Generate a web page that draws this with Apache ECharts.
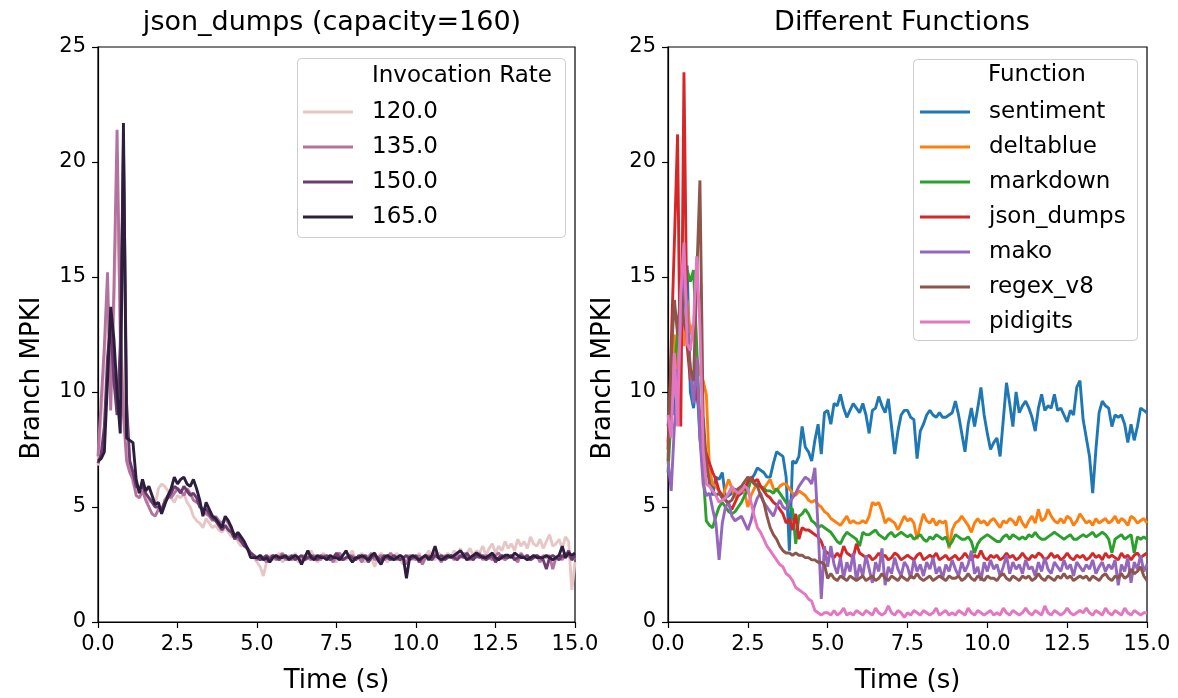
<!DOCTYPE html>
<html>
<head>
<meta charset="utf-8">
<script src="https://cdn.jsdelivr.net/npm/echarts@6/dist/echarts.min.js"></script>
<style>
html,body{margin:0;padding:0;background:#fff;}
#chart{width:1178px;height:698px;}
</style>
</head>
<body>
<div id="chart"></div>
<script>
// ---- Data (sampled every 0.1 s from 0.0 to 15.0 s) ----
const STEP = 0.1;
const leftTitle = 'json_dumps (capacity=160)';
const rightTitle = 'Different Functions';
const xLabel = 'Time (s)';
const yLabel = 'Branch MPKI';

const rateNames = ['120.0', '135.0', '150.0', '165.0'];
const rate120 = [
 6.8, 9.0, 11.5, 14.0, 10.0, 13.5, 19.5, 13.0, 10.0, 7.5,
 6.8, 6.0, 5.8, 5.6, 5.9, 5.5, 5.2, 5.4, 5.1, 5.8,
 6.0, 5.9, 5.7, 5.4, 5.2, 5.5, 5.4, 5.6, 5.2, 5.0,
 4.6, 4.4, 4.3, 4.1, 4.5, 4.3, 4.1, 4.2, 4.0, 3.9,
 4.1, 3.9, 3.7, 3.8, 3.5, 3.3, 3.4, 3.1, 3.0, 2.8,
 2.6, 2.4, 2.0, 2.6, 2.9, 2.7, 2.8, 3.0, 2.6, 2.8,
 2.9, 2.7, 3.0, 2.6, 2.8, 2.9, 2.7, 3.1, 2.8, 2.6,
 2.8, 3.0, 2.7, 2.9, 2.8, 2.6, 3.0, 2.8, 2.7, 2.9,
 3.1, 2.7, 2.8, 3.0, 2.6, 2.9, 2.8, 2.4, 2.8, 3.0,
 2.8, 2.6, 2.9, 2.8, 3.0, 2.7, 2.5, 2.8, 2.9, 2.7,
 2.8, 3.0, 2.6, 2.9, 3.1, 2.8, 2.7, 3.0, 2.9, 2.8,
 3.0, 2.8, 3.1, 2.9, 3.2, 2.8, 3.0, 3.2, 2.9, 3.1,
 3.0, 3.3, 2.9, 3.2, 3.4, 3.0, 3.3, 3.1, 3.5, 3.2,
 3.4, 3.1, 3.6, 3.3, 3.5, 3.2, 3.7, 3.4, 3.3, 3.6,
 3.2, 3.5, 3.8, 3.3, 3.4, 3.6, 3.2, 3.7, 3.5, 1.4,
 2.6];
const rate135 = [
 7.2, 9.6, 12.0, 15.2, 9.2, 14.5, 21.4, 12.5, 9.0, 7.0,
 6.5, 6.2, 5.5, 5.4, 5.7, 5.3, 5.0, 4.7, 4.6, 4.9,
 4.8, 5.3, 5.5, 5.4, 5.6, 5.8, 5.7, 5.5, 5.8, 5.6,
 5.3, 5.2, 5.1, 4.8, 4.7, 4.6, 4.4, 4.6, 4.4, 4.3,
 4.5, 4.3, 4.0, 3.8, 3.6, 3.5, 3.4, 3.2, 3.0, 2.9,
 2.7, 2.9, 2.8, 2.6, 2.8, 2.9, 2.7, 2.8, 3.0, 2.7,
 2.8, 2.7, 2.9, 2.8, 2.6, 2.9, 2.8, 2.7, 2.9, 2.8,
 2.7, 2.9, 2.8, 2.8, 2.6, 2.9, 3.0, 2.7, 2.8, 2.8,
 2.9, 2.7, 2.8, 2.6, 2.9, 2.8, 3.0, 2.7, 2.8, 2.9,
 2.7, 2.8, 3.0, 2.8, 2.7, 2.9, 2.8, 2.5, 2.9, 2.8,
 2.7, 2.9, 2.5, 2.8, 2.9, 2.8, 3.0, 2.8, 2.6, 2.9,
 2.8, 2.9, 2.7, 2.9, 2.8, 3.0, 2.8, 2.7, 2.9, 2.8,
 3.0, 2.7, 2.9, 2.8, 2.7, 2.9, 3.0, 2.8, 2.7, 2.8,
 2.9, 2.8, 2.6, 3.0, 2.8, 2.9, 2.7, 2.8, 2.9, 2.6,
 2.9, 2.8, 2.9, 2.3, 2.8, 2.9, 2.7, 3.0, 2.9, 2.7,
 2.8];
const rate150 = [
 6.9, 7.3, 8.5, 11.5, 13.0, 10.5, 9.0, 12.0, 20.8, 9.5,
 7.0, 6.5, 5.9, 5.8, 5.9, 5.6, 5.4, 5.2, 5.0, 5.0,
 4.9, 5.2, 5.4, 5.6, 5.9, 5.8, 5.6, 5.9, 5.7, 5.5,
 5.6, 5.4, 5.0, 4.9, 4.9, 4.7, 4.5, 4.4, 4.2, 4.0,
 4.2, 4.0, 3.9, 3.6, 3.8, 3.5, 3.3, 3.2, 3.0, 2.9,
 2.8, 2.7, 2.8, 2.9, 2.7, 2.9, 2.8, 2.7, 2.9, 2.8,
 2.8, 2.9, 2.7, 2.8, 2.9, 2.7, 2.8, 2.9, 2.8, 2.7,
 2.9, 2.8, 2.9, 2.7, 2.8, 3.0, 2.8, 2.7, 2.8, 2.9,
 2.8, 2.7, 2.9, 2.8, 2.9, 2.6, 2.8, 2.9, 2.8, 2.7,
 2.9, 2.8, 2.7, 2.9, 2.8, 2.7, 2.8, 2.9, 2.7, 2.8,
 2.9, 2.6, 2.8, 2.9, 2.8, 2.7, 2.9, 2.8, 2.9, 2.7,
 2.8, 2.9, 2.8, 2.7, 2.9, 2.8, 3.0, 2.8, 2.7, 2.9,
 2.8, 2.9, 2.7, 2.8, 2.9, 2.6, 2.8, 2.9, 2.8, 2.8,
 2.9, 2.7, 2.8, 2.9, 2.8, 2.9, 2.7, 2.8, 2.9, 2.8,
 2.7, 2.3, 2.8, 2.9, 2.8, 2.7, 2.9, 2.8, 3.1, 2.7,
 2.9];
const rate165 = [
 7.0, 7.1, 7.4, 10.5, 13.7, 12.3, 10.0, 8.2, 21.7, 8.0,
 7.9, 7.8, 6.2, 5.6, 6.2, 5.7, 5.9, 5.5, 5.1, 5.2,
 4.7, 5.1, 5.5, 5.8, 6.3, 6.0, 6.2, 6.3, 6.0, 5.9,
 6.2, 5.8, 5.3, 4.6, 5.2, 4.9, 4.6, 4.5, 4.3, 4.1,
 4.6, 4.4, 4.1, 3.7, 3.9, 3.7, 3.5, 3.2, 2.8, 2.8,
 2.8, 2.9, 2.7, 2.8, 2.6, 2.8, 2.9, 2.8, 2.8, 2.9,
 2.7, 2.8, 2.9, 2.8, 2.5, 2.8, 3.1, 2.8, 2.7, 2.9,
 2.8, 2.8, 2.7, 2.9, 2.8, 2.8, 2.7, 2.9, 3.1, 2.8,
 2.6, 2.8, 2.8, 2.9, 2.8, 2.7, 2.9, 3.0, 2.7, 2.5,
 2.8, 2.9, 2.8, 2.7, 2.8, 2.9, 2.8, 1.9, 2.8, 2.9,
 2.8, 2.7, 2.8, 2.9, 2.7, 2.9, 3.3, 2.8, 2.7, 2.8,
 2.9, 2.8, 2.9, 3.0, 3.1, 2.9, 2.7, 2.8, 2.9, 3.0,
 2.9, 2.8, 2.8, 2.9, 3.0, 2.8, 2.7, 2.8, 2.9, 2.9,
 2.8, 3.0, 2.9, 2.8, 2.8, 2.7, 2.8, 2.9, 2.8, 2.8,
 2.8, 2.9, 2.8, 2.7, 2.8, 2.9, 3.3, 2.8, 3.0, 2.9,
 3.0];

const funcNames = ['sentiment', 'deltablue', 'markdown', 'json_dumps', 'mako', 'regex_v8', 'pidigits'];
const sentiment = [
 8.5, 10.0, 9.0, 11.0, 12.0, 14.0, 15.5, 10.0, 9.3, 10.5,
 8.0, 6.8, 6.5, 6.7, 5.5, 6.3, 6.2, 6.5, 5.4, 5.5,
 5.6, 5.8, 5.5, 5.6, 5.7, 6.0, 6.2, 6.4, 6.7, 6.6,
 6.5, 6.3, 6.3, 6.9, 7.4, 7.3, 7.2, 6.3, 3.1, 7.0,
 6.9, 7.2, 8.5, 7.6, 7.4, 7.0, 7.9, 8.6, 7.3, 9.1,
 9.2, 8.6, 9.5, 9.4, 9.9, 9.3, 8.9, 9.2, 9.5, 9.3,
 9.1, 9.5, 9.0, 8.2, 9.2, 9.3, 9.8, 9.4, 9.1, 9.7,
 8.5, 7.3, 8.3, 9.0, 9.2, 9.2, 8.9, 8.8, 7.1, 8.3,
 8.6, 9.0, 9.2, 9.0, 8.9, 9.1, 8.9, 8.9, 9.0, 9.1,
 9.6, 9.0, 8.2, 7.4, 8.6, 9.3, 8.5, 9.3, 10.2, 9.0,
 8.2, 7.5, 7.8, 8.0, 7.2, 8.8, 10.4, 9.5, 8.5, 10.0,
 9.1, 9.4, 9.6, 9.3, 8.9, 8.3, 9.3, 9.9, 9.2, 9.4,
 9.3, 9.9, 9.2, 9.3, 9.0, 8.7, 9.2, 9.0, 10.2, 10.5,
 8.8, 8.0, 7.2, 5.6, 7.5, 9.1, 9.6, 9.4, 9.3, 8.5,
 9.0, 8.9, 9.0, 8.6, 7.8, 8.6, 7.9, 8.5, 9.3, 9.2,
 9.1];
const deltablue = [
 7.8, 10.5, 12.5, 11.0, 13.5, 12.0, 14.0, 12.5, 13.0, 11.5,
 10.8, 10.5, 9.9, 6.6, 6.0, 5.9, 5.7, 5.4, 5.8, 6.2,
 5.8, 5.4, 5.6, 5.9, 5.6, 5.0, 5.5, 5.8, 6.0, 5.9,
 5.8, 6.0, 6.2, 5.8, 5.7, 5.9, 6.0, 6.0, 5.8, 5.6,
 5.5, 5.7, 5.6, 5.5, 5.3, 5.2, 5.3, 5.1, 5.0, 4.8,
 4.7, 4.5, 4.4, 4.3, 4.2, 4.4, 4.6, 4.3, 4.4, 4.3,
 4.3, 4.4, 4.3, 4.6, 5.2, 5.1, 5.2, 4.8, 4.3, 4.5,
 4.4, 4.3, 4.0, 4.3, 4.6, 4.4, 4.5, 4.3, 3.6, 4.2,
 4.7, 4.4, 4.3, 4.5, 4.2, 4.4, 4.3, 4.4, 3.2, 4.0,
 4.3, 4.4, 4.6, 4.4, 4.2, 3.9, 4.3, 4.5, 4.3, 4.4,
 4.2, 4.4, 4.5, 4.3, 4.1, 4.4, 4.3, 4.5, 4.4, 4.2,
 4.6, 4.3, 4.1, 4.4, 4.6, 4.3, 4.9, 4.4, 4.5, 4.9,
 4.6, 4.4, 4.3, 4.5, 4.3, 4.6, 4.5, 4.2, 4.4, 4.7,
 4.5, 4.3, 4.4, 4.2, 4.5, 4.3, 4.4, 4.5, 4.3, 4.4,
 4.6, 4.3, 4.5, 4.4, 4.2, 4.6, 4.5, 4.3, 4.4, 4.5,
 4.3];
const markdown = [
 6.5, 9.0, 11.0, 12.5, 13.5, 14.5, 15.3, 14.8, 15.3, 12.0,
 8.5, 6.5, 4.4, 4.2, 4.1, 4.6, 5.0, 5.2, 5.0, 4.8,
 4.7, 4.8, 5.0, 5.2, 5.5, 5.7, 6.2, 6.0, 6.0, 5.9,
 5.8, 5.7, 5.7, 5.6, 5.8, 5.6, 5.4, 5.2, 5.0, 4.9,
 3.4, 4.6, 4.7, 4.9, 4.7, 4.4, 4.3, 4.1, 4.2, 4.1,
 4.0, 3.9, 3.7, 3.5, 3.4, 3.7, 3.9, 3.8, 3.7, 3.6,
 3.3, 3.9, 3.8, 3.8, 3.9, 4.0, 3.8, 3.7, 3.6, 3.8,
 3.9, 3.7, 3.8, 3.9, 3.8, 3.7, 3.8, 3.6, 3.7, 3.8,
 3.6, 3.5, 3.7, 3.6, 3.8, 3.7, 3.6, 3.7, 3.3, 3.5,
 3.8, 3.7, 3.6, 3.6, 3.7, 3.5, 3.0, 3.4, 3.6, 3.7,
 3.8, 3.7, 3.6, 3.5, 3.5, 3.7, 3.8, 3.6, 3.8, 3.7,
 3.6, 3.7, 3.6, 3.8, 3.7, 3.9, 3.7, 3.6, 3.6, 3.7,
 3.8, 3.9, 3.8, 3.7, 3.6, 3.7, 3.8, 3.6, 3.6, 3.7,
 3.8, 3.7, 3.8, 3.9, 3.7, 3.8, 3.9, 3.8, 3.6, 3.0,
 3.6, 3.7, 3.8, 3.6, 3.7, 3.8, 3.0, 3.7, 3.6, 3.7,
 3.6];
const jsonDumps = [
 7.5, 12.0, 16.5, 21.2, 8.5, 23.9, 12.0, 10.5, 10.8, 9.9,
 9.0, 7.9, 7.3, 6.9, 6.5, 6.2, 5.7, 5.5, 5.3, 5.1,
 4.9, 5.2, 5.5, 5.7, 5.8, 6.1, 6.3, 6.1, 6.2, 5.9,
 5.7, 5.5, 5.4, 5.2, 5.1, 4.9, 4.7, 4.3, 4.5, 4.0,
 4.7, 3.6, 4.1, 4.0, 4.0, 3.9, 3.8, 3.7, 3.5, 3.1,
 3.0, 2.9, 2.8, 3.0, 2.8, 3.3, 3.0, 2.9, 2.8, 3.4,
 3.0, 2.9, 2.8, 2.9, 2.7, 2.8, 3.0, 2.8, 2.9, 2.7,
 2.8, 3.0, 2.9, 2.7, 2.8, 2.9, 2.8, 2.7, 2.9, 3.0,
 2.7, 2.8, 2.9, 2.8, 3.0, 2.7, 2.8, 2.9, 2.7, 2.8,
 2.9, 2.7, 2.8, 3.0, 2.8, 2.7, 2.9, 2.8, 3.1, 2.8,
 2.7, 2.9, 2.8, 2.9, 2.7, 2.8, 3.0, 2.8, 2.9, 2.7,
 2.8, 3.0, 2.8, 2.7, 2.9, 2.8, 3.0, 2.9, 2.7, 2.8,
 3.0, 2.8, 2.9, 2.7, 2.8, 3.0, 2.8, 2.7, 2.9, 2.8,
 2.9, 2.7, 2.8, 3.0, 2.8, 2.9, 2.7, 3.0, 2.8, 2.9,
 2.8, 2.7, 3.0, 2.8, 2.9, 2.7, 2.9, 3.0, 2.8, 2.9,
 3.0];
const mako = [
 7.0, 5.7, 8.5, 10.0, 13.0, 15.8, 13.5, 11.0, 9.5, 11.5,
 8.0, 6.0, 5.5, 5.6, 4.9, 4.3, 2.7, 4.3, 5.0, 5.2,
 4.6, 4.4, 4.5, 4.6, 4.3, 4.0, 4.4, 5.0, 5.4, 5.6,
 5.2, 5.0, 4.8, 4.6, 5.0, 5.3, 5.0, 4.9, 5.2, 5.4,
 5.6, 5.9, 6.1, 6.3, 6.2, 6.0, 6.7, 4.1, 1.0, 3.3,
 2.4, 3.3, 2.5, 2.1, 2.8, 1.9, 2.6, 2.2, 3.0, 1.8,
 2.5, 2.0, 2.9, 2.3, 1.7, 2.6, 2.2, 3.2, 1.6, 2.4,
 2.1, 2.8, 2.3, 2.0, 2.6, 2.4, 1.9, 2.7, 2.2, 2.5,
 2.0, 2.6, 2.3, 2.8, 2.1, 2.4, 1.9, 2.5, 2.2, 2.7,
 2.3, 2.0, 2.6, 2.2, 2.5, 3.1, 2.1, 2.4, 1.8, 2.6,
 2.2, 2.7, 2.3, 2.5, 2.0, 2.4, 2.9, 2.1, 2.6, 2.3,
 2.5, 2.1, 2.7, 2.3, 2.4, 2.0, 2.6, 2.2, 2.8, 2.3,
 2.1, 2.6, 2.4, 2.2, 2.7, 2.3, 2.5, 2.0, 2.6, 2.4,
 2.2, 2.5, 2.3, 2.7, 2.1, 2.4, 2.6, 2.2, 2.5, 2.3,
 2.7, 1.6, 2.5, 2.2, 2.8, 1.7, 2.6, 2.3, 2.9, 2.2,
 2.5];
const regexV8 = [
 7.0, 11.5, 14.0, 12.5, 14.5, 13.0, 12.5, 11.0, 10.5, 15.0,
 19.2, 9.0, 7.0, 6.0, 5.7, 5.5, 5.6, 5.4, 5.3, 5.2,
 5.3, 5.6, 5.8, 5.9, 6.1, 6.3, 6.2, 6.0, 5.9, 5.5,
 5.2, 4.6, 4.1, 3.8, 3.6, 3.3, 3.1, 3.0, 3.0, 2.9,
 3.0, 2.9, 2.9, 2.8, 2.8, 2.7, 2.7, 2.6, 2.6, 2.5,
 1.9, 2.1, 1.9, 1.8, 2.0, 1.9, 1.8, 2.0, 1.9, 1.8,
 1.9, 2.0, 1.8, 1.9, 2.0, 1.8, 1.9, 2.1, 1.9, 1.8,
 2.0, 1.9, 1.8, 2.0, 1.9, 1.8, 2.0, 1.9, 2.1, 1.9,
 1.8, 1.9, 2.0, 1.8, 1.9, 2.0, 1.9, 1.8, 2.0, 1.9,
 1.9, 2.0, 1.8, 1.9, 2.1, 1.9, 1.8, 2.0, 1.9, 1.8,
 2.0, 1.9, 1.9, 1.8, 2.0, 2.1, 1.9, 1.8, 2.0, 1.9,
 1.8, 2.0, 1.9, 2.0, 1.8, 1.9, 2.1, 1.9, 1.8, 2.0,
 1.9, 1.8, 2.0, 1.9, 2.1, 1.9, 2.0, 1.8, 1.9, 2.0,
 1.9, 2.0, 1.8, 2.0, 1.9, 1.8, 2.0, 2.1, 1.9, 1.8,
 2.0, 1.9, 2.1, 1.9, 2.0, 2.3, 2.1, 2.2, 2.4, 2.0,
 1.8];
const pidigits = [
 9.0, 8.0, 11.7, 8.5, 14.3, 16.5, 12.1, 11.8, 13.0, 15.9,
 12.8, 7.5, 6.0, 5.9, 5.7, 5.5, 5.2, 5.3, 5.4, 5.6,
 5.9, 5.7, 5.6, 5.7, 5.9, 5.8, 5.2, 4.6, 4.1, 3.9,
 3.6, 3.3, 3.1, 2.9, 2.7, 2.5, 2.4, 2.1, 2.0, 1.8,
 1.5, 1.4, 1.3, 1.2, 1.0, 0.9, 0.5, 0.4, 0.3, 0.4,
 0.4, 0.3, 0.5, 0.3, 0.4, 0.6, 0.3, 0.4, 0.3, 0.5,
 0.4, 0.3, 0.5, 0.4, 0.3, 0.6, 0.4, 0.3, 0.4, 0.7,
 0.4, 0.3, 0.5, 0.4, 0.2, 0.4, 0.3, 0.5, 0.4, 0.3,
 0.5, 0.4, 0.3, 0.4, 0.6, 0.3, 0.4, 0.5, 0.3, 0.4,
 0.3, 0.5, 0.4, 0.3, 0.6, 0.4, 0.3, 0.5, 0.4, 0.3,
 0.4, 0.5, 0.3, 0.4, 0.3, 0.6, 0.4, 0.3, 0.5, 0.4,
 0.3, 0.4, 0.6, 0.4, 0.3, 0.5, 0.4, 0.3, 0.7, 0.4,
 0.3, 0.5, 0.4, 0.3, 0.4, 0.6, 0.4, 0.3, 0.4, 0.5,
 0.4, 0.6, 0.4, 0.3, 0.5, 0.4, 0.3, 0.6, 0.4, 0.3,
 0.5, 0.4, 0.3, 0.6, 0.4, 0.3, 0.5, 0.4, 0.3, 0.4,
 0.4];

// ---- Styling ----
const FONT = 'DejaVu Sans';
const rateColors = ['#e8c6c6', '#b5729e', '#6c3b6f', '#2d1e3e'];
const funcColors = ['#1f77b4', '#ff7f0e', '#2ca02c', '#d62728', '#9467bd', '#8c564b', '#e377c2'];
const rateSeries = [rate120, rate135, rate150, rate165];
const funcSeries = [sentiment, deltablue, markdown, jsonDumps, mako, regexV8, pidigits];
const LW = 2.9;

function pairs(arr) {
  return arr.map((v, i) => [Math.round(i * STEP * 10) / 10, v]);
}

const chart = echarts.init(document.getElementById('chart'), null, {renderer: 'canvas'});

function xAxisCfg(gi) {
  return {
    gridIndex: gi, type: 'value', min: 0, max: 15, interval: 2.5,
    name: xLabel, nameLocation: 'middle', nameGap: 46,
    nameTextStyle: {fontFamily: FONT, fontSize: 26, color: '#000'},
    axisLine: {show: true, lineStyle: {color: '#000', width: 1.2}},
    axisTick: {show: true, inside: false, length: 6, lineStyle: {color: '#000', width: 1.2}},
    axisLabel: {show: true, margin: 12, fontFamily: FONT, fontSize: 21, color: '#000',
      showMinLabel: true, showMaxLabel: true, hideOverlap: false,
      formatter: v => v.toFixed(1)},
    splitLine: {show: false}
  };
}
function yAxisCfg(gi) {
  return {
    gridIndex: gi, type: 'value', min: 0, max: 25, interval: 5,
    axisLine: {show: true, lineStyle: {color: '#000', width: 1.2}},
    axisTick: {show: true, inside: false, length: 6, lineStyle: {color: '#000', width: 1.2}},
    axisLabel: {show: true, margin: 12, fontFamily: FONT, fontSize: 21, color: '#000',
      showMinLabel: true, showMaxLabel: true},
    splitLine: {show: false}
  };
}

const series = [];
rateSeries.forEach((arr, i) => {
  series.push({
    name: rateNames[i], type: 'line', xAxisIndex: 0, yAxisIndex: 0,
    data: pairs(arr), showSymbol: false, symbol: 'none',
    lineStyle: {width: LW, color: rateColors[i]}, itemStyle: {color: rateColors[i]},
    z: 3 + i
  });
});
funcSeries.forEach((arr, i) => {
  series.push({
    name: funcNames[i], type: 'line', xAxisIndex: 1, yAxisIndex: 1,
    data: pairs(arr), showSymbol: false, symbol: 'none',
    lineStyle: {width: LW, color: funcColors[i]}, itemStyle: {color: funcColors[i]},
    z: 3 + i
  });
});

const legendText = {fontFamily: FONT, fontSize: 23, color: '#000', lineHeight: 26, padding: [0, 0, 0, 14]};

const option = {
  animation: false,
  backgroundColor: '#fff',
  title: [
    {text: leftTitle, left: 327, top: 4, textAlign: 'center',
     textStyle: {fontFamily: FONT, fontSize: 27, fontWeight: 'normal', color: '#000'}},
    {text: rightTitle, left: 897, top: 4, textAlign: 'center',
     textStyle: {fontFamily: FONT, fontSize: 27, fontWeight: 'normal', color: '#000'}}
  ],
  grid: [
    {left: 98, top: 47, width: 477, height: 575, show: true, borderColor: '#000', borderWidth: 1.2,
     backgroundColor: 'transparent', containLabel: false, outerBoundsMode: 'none'},
    {left: 668, top: 47, width: 479, height: 575, show: true, borderColor: '#000', borderWidth: 1.2,
     backgroundColor: 'transparent', containLabel: false, outerBoundsMode: 'none'}
  ],
  xAxis: [xAxisCfg(0), xAxisCfg(1)],
  yAxis: [yAxisCfg(0), yAxisCfg(1)],
  legend: [
    {data: rateNames, orient: 'vertical', left: 303, top: 99, itemWidth: 50, itemHeight: 3,
     icon: 'rect', itemGap: 9, padding: 0, textStyle: legendText, selectedMode: false, z: 20},
    {data: funcNames, orient: 'vertical', left: 920, top: 99, itemWidth: 50, itemHeight: 3,
     icon: 'rect', itemGap: 9, padding: 0, textStyle: legendText, selectedMode: false, z: 20}
  ],
  graphic: [
    {type: 'rect', left: 297, top: 58, z: 10,
     shape: {width: 268, height: 179, r: 4},
     style: {fill: 'rgba(255,255,255,0.85)', stroke: '#cccccc', lineWidth: 1}},
    {type: 'text', left: 372, top: 65, z: 11,
     style: {text: 'Invocation Rate', font: '23px "DejaVu Sans"', fill: '#000'}},
    {type: 'rect', left: 913, top: 59, z: 10,
     shape: {width: 224, height: 281, r: 4},
     style: {fill: 'rgba(255,255,255,0.85)', stroke: '#cccccc', lineWidth: 1}},
    {type: 'text', left: 988, top: 64, z: 11,
     style: {text: 'Function', font: '23px "DejaVu Sans"', fill: '#000'}},
    {type: 'text', x: 32, y: 378, rotation: Math.PI / 2, z: 11,
     style: {text: yLabel, font: '26px "DejaVu Sans"', fill: '#000', textAlign: 'center', textVerticalAlign: 'middle'}},
    {type: 'text', x: 603, y: 378, rotation: Math.PI / 2, z: 11,
     style: {text: yLabel, font: '26px "DejaVu Sans"', fill: '#000', textAlign: 'center', textVerticalAlign: 'middle'}}
  ],
  series: series
};
chart.setOption(option);
</script>
</body>
</html>
